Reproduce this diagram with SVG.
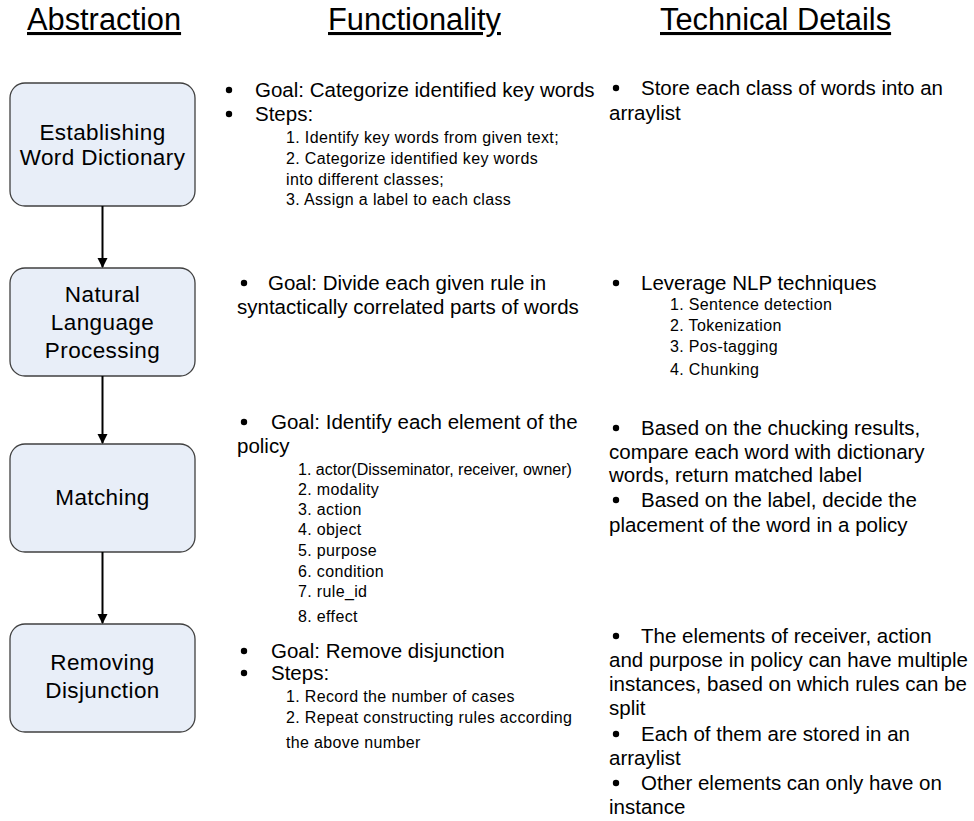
<svg xmlns="http://www.w3.org/2000/svg" width="974" height="821" viewBox="0 0 974 821">
<style>
text{font-family:"Liberation Sans",Arial,sans-serif;fill:#000}
.h{font-size:30.8px;text-decoration:underline}
.bx{fill:#E8EEF8;stroke:#404040;stroke-width:1.3}
.bt{font-size:22.5px;text-anchor:middle;letter-spacing:0.4px}
.t{font-size:20.5px}
.s{font-size:16px;letter-spacing:0.35px}
.conn line{stroke:#000;stroke-width:2}
</style>
<defs>
<marker id="ah" markerWidth="10" markerHeight="16" refX="9" refY="5" orient="auto" markerUnits="userSpaceOnUse" viewBox="0 0 10 10">
<path d="M0,0 L10,5 L0,10 Z" fill="#000"/>
</marker>
</defs>
<rect width="974" height="821" fill="#fff"/>
<g id="headers">
<text class="h" x="27" y="30">Abstraction</text>
<text class="h" x="328" y="30">Functionality</text>
<text class="h" x="660" y="30">Technical Details</text>
</g>
<g id="n1"><rect class="bx" x="10" y="83" width="185" height="123" rx="15"/>
<text class="bt" x="102.5" y="140">Establishing</text><text class="bt" x="102.5" y="165">Word Dictionary</text></g>
<g id="n2"><rect class="bx" x="10" y="268" width="185" height="108" rx="15"/>
<text class="bt" x="102.5" y="302">Natural</text><text class="bt" x="102.5" y="330">Language</text><text class="bt" x="102.5" y="358">Processing</text></g>
<g id="n3"><rect class="bx" x="10" y="444" width="185" height="108" rx="15"/>
<text class="bt" x="102.5" y="505">Matching</text></g>
<g id="n4"><rect class="bx" x="10" y="624" width="185" height="108" rx="15"/>
<text class="bt" x="102.5" y="670">Removing</text><text class="bt" x="102.5" y="698">Disjunction</text></g>
<g id="connectors" class="conn">
<line x1="102.5" y1="206" x2="102.5" y2="267" marker-end="url(#ah)"/>
<line x1="102.5" y1="376" x2="102.5" y2="443" marker-end="url(#ah)"/>
<line x1="102.5" y1="552" x2="102.5" y2="623" marker-end="url(#ah)"/>
</g>
<g id="func1">
<circle cx="229" cy="90" r="3.2"/><text class="t" x="255" y="97">Goal: Categorize identified key words</text>
<circle cx="229" cy="114" r="3.2"/><text class="t" x="255" y="121">Steps:</text>
<text class="s" x="286" y="143">1. Identify key words from given text;</text>
<text class="s" x="286" y="164">2. Categorize identified key words</text>
<text class="s" x="286" y="185">into different classes;</text>
<text class="s" x="286" y="205">3. Assign a label to each class</text>
</g>
<g id="tech1">
<circle cx="616" cy="88" r="3.2"/><text class="t" x="641" y="95">Store each class of words into an</text>
<text class="t" x="609" y="120">arraylist</text>
</g>
<g id="func2">
<circle cx="244" cy="283" r="3.2"/><text class="t" x="268" y="290">Goal: Divide each given rule in</text>
<text class="t" x="237" y="314">syntactically correlated parts of words</text>
</g>
<g id="tech2">
<circle cx="616" cy="283" r="3.2"/><text class="t" x="641" y="290">Leverage NLP techniques</text>
<text class="s" x="670" y="310">1. Sentence detection</text>
<text class="s" x="670" y="331">2. Tokenization</text>
<text class="s" x="670" y="352">3. Pos-tagging</text>
<text class="s" x="670" y="375">4. Chunking</text>
</g>
<g id="func3">
<circle cx="244" cy="422" r="3.2"/><text class="t" x="271" y="429">Goal: Identify each element of the</text>
<text class="t" x="237" y="453">policy</text>
<text class="s" x="298" y="475" style="letter-spacing:0">1. actor(Disseminator, receiver, owner)</text>
<text class="s" x="298" y="495">2. modality</text>
<text class="s" x="298" y="515">3. action</text>
<text class="s" x="298" y="535">4. object</text>
<text class="s" x="298" y="556">5. purpose</text>
<text class="s" x="298" y="577">6. condition</text>
<text class="s" x="298" y="597">7. rule_id</text>
<text class="s" x="298" y="622">8. effect</text>
</g>
<g id="tech3">
<circle cx="616" cy="428" r="3.2"/><text class="t" x="641" y="435">Based on the chucking results,</text>
<text class="t" x="609" y="459">compare each word with dictionary</text>
<text class="t" x="609" y="482">words, return matched label</text>
<circle cx="616" cy="500" r="3.2"/><text class="t" x="641" y="507">Based on the label, decide the</text>
<text class="t" x="609" y="532">placement of the word in a policy</text>
</g>
<g id="func4">
<circle cx="244" cy="651" r="3.2"/><text class="t" x="271" y="658">Goal: Remove disjunction</text>
<circle cx="244" cy="673" r="3.2"/><text class="t" x="271" y="680">Steps:</text>
<text class="s" x="286" y="702">1. Record the number of cases</text>
<text class="s" x="286" y="723">2. Repeat constructing rules according</text>
<text class="s" x="286" y="748">the above number</text>
</g>
<g id="tech4">
<circle cx="616" cy="636" r="3.2"/><text class="t" x="641" y="643">The elements of receiver, action</text>
<text class="t" x="609" y="667">and purpose in policy can have multiple</text>
<text class="t" x="609" y="691">instances, based on which rules can be</text>
<text class="t" x="609" y="715">split</text>
<circle cx="616" cy="734" r="3.2"/><text class="t" x="641" y="741">Each of them are stored in an</text>
<text class="t" x="609" y="765">arraylist</text>
<circle cx="616" cy="783" r="3.2"/><text class="t" x="641" y="790">Other elements can only have on</text>
<text class="t" x="609" y="814">instance</text>
</g>
</svg>
